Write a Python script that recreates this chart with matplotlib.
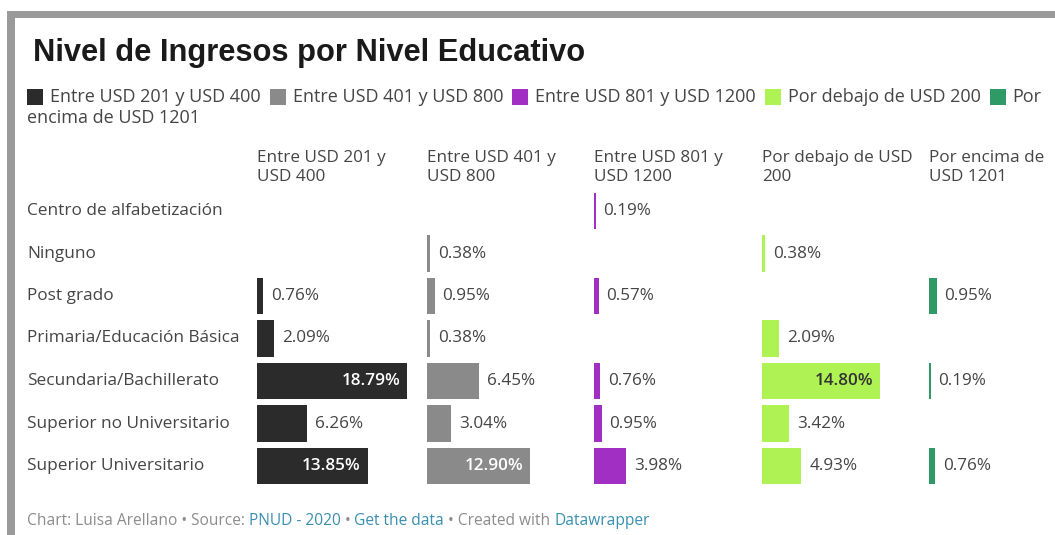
import numpy as np
import matplotlib
matplotlib.use("Agg")
import matplotlib.pyplot as plt
from matplotlib.patches import Rectangle
from matplotlib.transforms import blended_transform_factory

# ---------------- data ----------------
categories = ["Centro de alfabetización", "Ninguno", "Post grado",
              "Primaria/Educación Básica", "Secundaria/Bachillerato",
              "Superior no Universitario", "Superior Universitario"]
series_names = ["Entre USD 201 y USD 400", "Entre USD 401 y USD 800",
                "Entre USD 801 y USD 1200", "Por debajo de USD 200",
                "Por encima de USD 1201"]
header_lines = [("Entre USD 201 y", "USD 400"), ("Entre USD 401 y", "USD 800"),
                ("Entre USD 801 y", "USD 1200"), ("Por debajo de USD", "200"),
                ("Por encima de", "USD 1201")]
nan = np.nan
s_201_400 = [nan, nan, 0.76, 2.09, 18.79, 6.26, 13.85]
s_401_800 = [nan, 0.38, 0.95, 0.38, 6.45, 3.04, 12.90]
s_801_1200 = [0.19, nan, 0.57, nan, 0.76, 0.95, 3.98]
s_below_200 = [nan, 0.38, nan, 2.09, 14.80, 3.42, 4.93]
s_above_1201 = [nan, nan, 0.95, nan, 0.19, nan, 0.76]
series_values = [s_201_400, s_401_800, s_801_1200, s_below_200, s_above_1201]
colors = ["#2b2b2b", "#8a8a8a", "#a12fc4", "#aef254", "#2f9a66"]
inside_text = ["white", "white", "white", "#333333", "white"]

W, H = 1055, 535
BODY = "Open Sans"
TITLE = "Liberation Sans"
TXT = "#454545"

fig = plt.figure(figsize=(W / 100, H / 100), dpi=100)
fig.patch.set_facecolor("white")
renderer = fig.canvas.get_renderer()

ov = fig.add_axes([0, 0, 1, 1])
ov.set_xlim(0, W)
ov.set_ylim(H, 0)
ov.axis("off")


def px_width(t):
    return t.get_window_extent(renderer=renderer).width


def fit_size(text, target, family, weight="normal", base=10.0):
    t = ov.text(0, 0, text, fontsize=base, family=family, fontweight=weight)
    w = px_width(t)
    t.remove()
    return base * target / w


# frame
ov.add_patch(Rectangle((7, 11), W - 7, 7, color="#9a9a9a", lw=0))
ov.add_patch(Rectangle((7, 11), 8, H - 11, color="#9a9a9a", lw=0))

# font sizes fitted to the reference's text widths
title_fs = fit_size("Nivel de Ingresos por Nivel Educativo", 552, TITLE, "bold")
legend_fs = fit_size(series_names[0], 212, BODY)
header_fs = fit_size(header_lines[0][0], 129, BODY)
row_fs = fit_size(categories[4], 191, BODY)
value_fs = fit_size("6.26%", 48, BODY)
foot_fs = fit_size("Chart: Luisa Arellano • Source: PNUD - 2020 • Get the data • Created with Datawrapper", 624, BODY)

# title
ov.text(33, 60.5, "Nivel de Ingresos por Nivel Educativo", fontsize=title_fs,
        fontweight="bold", family=TITLE, color="#1a1a1a", va="baseline", ha="left")

# legend
lx, ly = 27, 97
for i, (name, c) in enumerate(zip(series_names, colors)):
    ov.add_patch(Rectangle((lx, ly - 8), 16, 16, color=c, lw=0))
    if i == len(series_names) - 1:
        first, rest = name.split(" ", 1)
        ov.text(lx + 23, ly, first, fontsize=legend_fs, family=BODY,
                color=TXT, va="center", ha="left")
        ov.text(27, ly + 21, rest, fontsize=legend_fs, family=BODY,
                color=TXT, va="center", ha="left")
    else:
        t = ov.text(lx + 23, ly, name, fontsize=legend_fs, family=BODY,
                    color=TXT, va="center", ha="left")
        lx = lx + 23 + px_width(t) + 9

# columns
col_x = [257, 427, 594, 762, 929]
col_w = 160
px_per_pct = 8.0
row_top = 189.75
row_h = 42.5
n = len(categories)
axes = []
for j, (x0, vals, c) in enumerate(zip(col_x, series_values, colors)):
    ax = fig.add_axes([x0 / W, 1 - (row_top + n * row_h) / H, col_w / W, n * row_h / H])
    ax.set_xlim(0, col_w / px_per_pct)
    ax.set_ylim(n - 0.5, -0.5)
    ax.axis("off")
    v = np.array(vals, dtype=float)
    yy = np.arange(n)
    ax.barh(yy, np.nan_to_num(v), height=0.87, color=c, lw=0)
    for yi, val in zip(yy, v):
        if np.isnan(val):
            continue
        lab = f"{val:.2f}%"
        if val >= 10:
            ax.annotate(lab, (val, yi), xytext=(-7, 0), textcoords="offset pixels",
                        ha="right", va="center", fontsize=value_fs, family=BODY,
                        color=inside_text[j], fontweight="semibold")
        else:
            ax.annotate(lab, (val, yi), xytext=(8, 0), textcoords="offset pixels",
                        ha="left", va="center", fontsize=value_fs, family=BODY,
                        color=TXT)
    l1, l2 = header_lines[j]
    ov.text(x0, 158, l1, fontsize=header_fs, family=BODY, color=TXT, va="center", ha="left")
    ov.text(x0, 177, l2, fontsize=header_fs, family=BODY, color=TXT, va="center", ha="left")
    axes.append(ax)

# row labels
tr = blended_transform_factory(ov.transData, axes[0].transData)
for i, cat in enumerate(categories):
    ov.text(27, i, cat, transform=tr, fontsize=row_fs, family=BODY, color=TXT,
            va="center", ha="left")

# footer
pieces = [("Chart: Luisa Arellano • Source: ", "#8c8c8c"), ("PNUD - 2020", "#3a8fb0"),
          (" • ", "#8c8c8c"), ("Get the data", "#3a8fb0"),
          (" • Created with ", "#8c8c8c"), ("Datawrapper", "#3a8fb0")]
fx = 27
for txt, c in pieces:
    t = ov.text(fx, 521, txt, fontsize=foot_fs, family=BODY, color=c, va="center", ha="left")
    fx += px_width(t)

fig.savefig("out.png", dpi=100, facecolor="white")
